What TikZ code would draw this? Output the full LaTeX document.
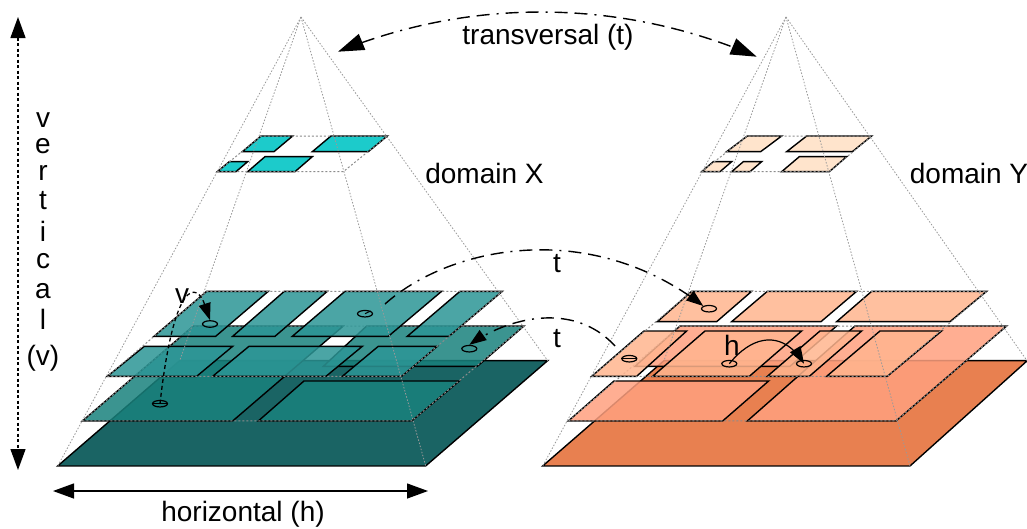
\documentclass[tikz,border=0pt]{standalone}
\usepackage{fontspec}
\setmainfont{Liberation Sans}
\usetikzlibrary{arrows.meta,bending,shapes.geometric}
\definecolor{tBase}{RGB}{26,100,100}
\definecolor{tOne}{RGB}{25,130,125}
\definecolor{tTwo}{RGB}{44,150,150}
\definecolor{tTop}{RGB}{28,203,203}
\definecolor{oBase}{RGB}{232,128,80}
\definecolor{oOne}{RGB}{255,160,127}
\definecolor{oTwo}{RGB}{255,181,143}
\definecolor{oTop}{RGB}{255,228,204}
\tikzset{
  plane/.style={draw=black,line width=1.4pt,line join=miter},
  level/.style={plane,fill opacity=.85},
  outline/.style={draw=black!45,line width=1pt,dash pattern=on 2pt off 2pt},
  ray/.style={draw=black!40,line width=.8pt,dash pattern=on 1.5pt off 1.7pt},
  labeltext/.style={font=\fontsize{28}{30}\selectfont,inner sep=0pt},
  spot/.style={ellipse,draw=black,line width=1.2pt,minimum width=15pt,minimum height=6.5pt,inner sep=0pt},
  smalltip/.style={-{Triangle[length=17pt,width=12pt,flex=0]}},
  flow/.style={line width=1.4pt,dash pattern=on 13pt off 7pt on 13pt off 7pt on 2pt off 7pt},
  vflow/.style={line width=1.3pt,dash pattern=on 4pt off 3pt},
  dimsolid/.style={line width=1.3pt,{Triangle[length=21pt,width=15pt]}-{Triangle[length=21pt,width=15pt]}},
  dimdot/.style={dimsolid,dash pattern=on 3pt off 2.5pt},
}
\newcommand{\quadr}[5]{\path[#1] #2 -- #3 -- #4 -- #5 -- cycle;}
\begin{document}
\begin{tikzpicture}[x=1pt,y=-1pt]
\useasboundingbox (0,0) rectangle (1027,528);
\fill[white] (0,0) rectangle (1027,528);
% ---------- teal pyramid, zoom coordinates
\begin{scope}[shift={(50,270)},x=.3333pt,y=-.3333pt]
\quadr{plane,fill=tBase}{(23,588)}{(1127,588)}{(1493,272)}{(389,272)}
\quadr{level,fill=tOne}{(97,453)}{(548,453)}{(880,168)}{(430,168)}
\quadr{level,fill=tOne}{(625,453)}{(1085,453)}{(1228,333)}{(762,333)}
\quadr{level,fill=tOne}{(820,289)}{(1282,289)}{(1422,168)}{(950,168)}
\quadr{outline}{(97,453)}{(1085,453)}{(1422,168)}{(430,168)}
\quadr{level,fill=tTwo}{(172,319)}{(440,319)}{(548,229)}{(283,229)}
\quadr{level,fill=tTwo}{(488,319)}{(828,319)}{(937,229)}{(597,229)}
\quadr{level,fill=tTwo}{(877,319)}{(1055,319)}{(1162,229)}{(985,229)}
\quadr{level,fill=tTwo}{(312,199)}{(497,199)}{(655,64)}{(470,64)}
\quadr{level,fill=tTwo}{(548,199)}{(675,199)}{(832,64)}{(703,64)}
\quadr{level,fill=tTwo}{(727,199)}{(1015,199)}{(1175,64)}{(885,64)}
\quadr{level,fill=tTwo}{(1072,199)}{(1197,199)}{(1357,64)}{(1230,64)}
\quadr{outline}{(172,319)}{(1055,319)}{(1357,64)}{(470,64)}
\end{scope}
% teal top level
\begin{scope}[shift={(200,120)},x=.3333pt,y=-.3333pt]
\quadr{plane,fill=tTop}{(52,155)}{(108,155)}{(143,125)}{(88,125)}
\quadr{plane,fill=tTop}{(143,155)}{(285,155)}{(337,110)}{(195,110)}
\quadr{plane,fill=tTop}{(127,95)}{(222,95)}{(278,48)}{(183,48)}
\quadr{plane,fill=tTop}{(337,95)}{(505,95)}{(562,48)}{(393,48)}
\quadr{outline}{(52,155)}{(430,155)}{(562,48)}{(183,48)}
\end{scope}
% ---------- orange pyramid
\begin{scope}[shift={(540,270)},x=.3333pt,y=-.3333pt]
\quadr{plane,fill=oBase}{(8,588)}{(1110,588)}{(1462,272)}{(372,272)}
\quadr{level,fill=oOne}{(85,453)}{(548,453)}{(686,333)}{(222,333)}
\quadr{level,fill=oOne}{(622,453)}{(1068,453)}{(1400,168)}{(945,168)}
\quadr{level,fill=oOne}{(285,289)}{(750,289)}{(890,168)}{(420,168)}
\quadr{outline}{(85,453)}{(1068,453)}{(1400,168)}{(420,168)}
\quadr{level,fill=oTwo}{(155,319)}{(290,319)}{(440,183)}{(312,183)}
\quadr{level,fill=oTwo}{(338,319)}{(628,319)}{(785,183)}{(495,183)}
\quadr{level,fill=oTwo}{(682,319)}{(808,319)}{(965,183)}{(840,183)}
\quadr{level,fill=oTwo}{(860,319)}{(1042,319)}{(1205,183)}{(1020,183)}
\quadr{level,fill=oTwo}{(352,155)}{(530,155)}{(635,64)}{(455,64)}
\quadr{level,fill=oTwo}{(575,155)}{(843,155)}{(950,64)}{(682,64)}
\quadr{level,fill=oTwo}{(890,155)}{(1230,155)}{(1340,64)}{(995,64)}
\quadr{outline}{(155,319)}{(1042,319)}{(1340,64)}{(455,64)}
\end{scope}
\begin{scope}[shift={(690,120)},x=.3333pt,y=-.3333pt]
\quadr{plane,fill=oTop}{(35,155)}{(90,155)}{(125,125)}{(70,125)}
\quadr{plane,fill=oTop}{(125,155)}{(180,155)}{(215,125)}{(160,125)}
\quadr{plane,fill=oTop}{(275,155)}{(418,155)}{(470,110)}{(328,110)}
\quadr{plane,fill=oTop}{(110,95)}{(212,95)}{(275,48)}{(172,48)}
\quadr{plane,fill=oTop}{(290,95)}{(487,95)}{(545,48)}{(350,48)}
\quadr{outline}{(35,155)}{(418,155)}{(545,48)}{(172,48)}
\end{scope}
% ---------- pyramid rays
\coordinate (ax) at (301,17);
\coordinate (ay) at (786,17);
\coordinate (x1) at (57.7,466);
\coordinate (x2) at (425.7,466);
\coordinate (x3) at (547.7,360.7);
\coordinate (x4) at (179.7,360.7);
\coordinate (y1) at (542.7,466);
\coordinate (y2) at (910,466);
\coordinate (y3) at (1027,360.7);
\coordinate (y4) at (664,360.7);
\foreach \c in {x1,x2,x3,x4} \draw[ray] (ax) -- (\c);
\foreach \c in {y1,y2,y3,y4} \draw[ray] (ay) -- (\c);
% ---------- spots
\node[spot] (s1) at (210,324) {};
\node[spot] (s2) at (365,313.7) {};
\node[spot] (s3) at (469.3,348.7) {};
\node[spot] (s4) at (160,403.7) {};
\node[spot] (s5) at (709,308.7) {};
\node[spot] (s6) at (629.3,358.7) {};
\node[spot] (s7) at (729.3,363.7) {};
\node[spot] (s8) at (804,363.7) {};
\draw[line width=1pt] (s6.west) -- (s6.east);
\draw[line width=1pt] (s4.west) -- (s4.east);
% ---------- connectors
\coordinate (tA) at (338,51.7);
\coordinate (tB) at (756.7,56.7);
\coordinate (tC) at (615,346);
\coordinate (tD) at (385,304);
\draw[flow,{Triangle[length=26pt,width=17pt,flex=0]}-{Triangle[length=26pt,width=17pt,flex=0]}] (tA) .. controls (470,-2) and (620,-2) .. (tB);
\draw[line width=1pt] (s2.center) -- (s2.north east);
\draw[flow,smalltip] (tD) .. controls (450,246) and (590,218) .. (s5.north west);
\draw[flow,smalltip] (tC) .. controls (575,302) and (510,316) .. (s3.north);
\draw[vflow,smalltip] (s4.center) .. controls (167,340) and (180,285) .. (197,293) .. controls (203,297) and (205,305) .. (s1.north);
\draw[line width=1.2pt,smalltip] (s7.center) .. controls (755,332) and (785,332) .. (s8.center);
\draw[dimdot] (18,17) -- (18,470);
\draw[dimsolid] (53,491) -- (428,491);
% ---------- labels
\node[labeltext] (lt) at (548,37) {transversal (t)};
\node[labeltext] (ldx) at (484.5,173) {domain X};
\node[labeltext] (ldy) at (969,173) {domain Y};
\node[labeltext] (lh) at (243,514) {horizontal (h)};
\node[labeltext] (lt1) at (557,264) {t};
\node[labeltext] (lt2) at (557,339) {t};
\node[labeltext] (lv) at (182,296) {v};
\node[labeltext] (lhh) at (732,345) {h};
\node[labeltext] (v1) at (43,120.5) {v};
\node[labeltext] (v2) at (43,146) {e};
\node[labeltext] (v3) at (43,173) {r};
\node[labeltext] (v4) at (43,201) {t};
\node[labeltext] (v5) at (43,231) {i};
\node[labeltext] (v6) at (43,261) {c};
\node[labeltext] (v7) at (43,291) {a};
\node[labeltext] (v8) at (43,319) {l};
\node[labeltext] (v9) at (43,358) {(v)};
\end{tikzpicture}
\end{document}
